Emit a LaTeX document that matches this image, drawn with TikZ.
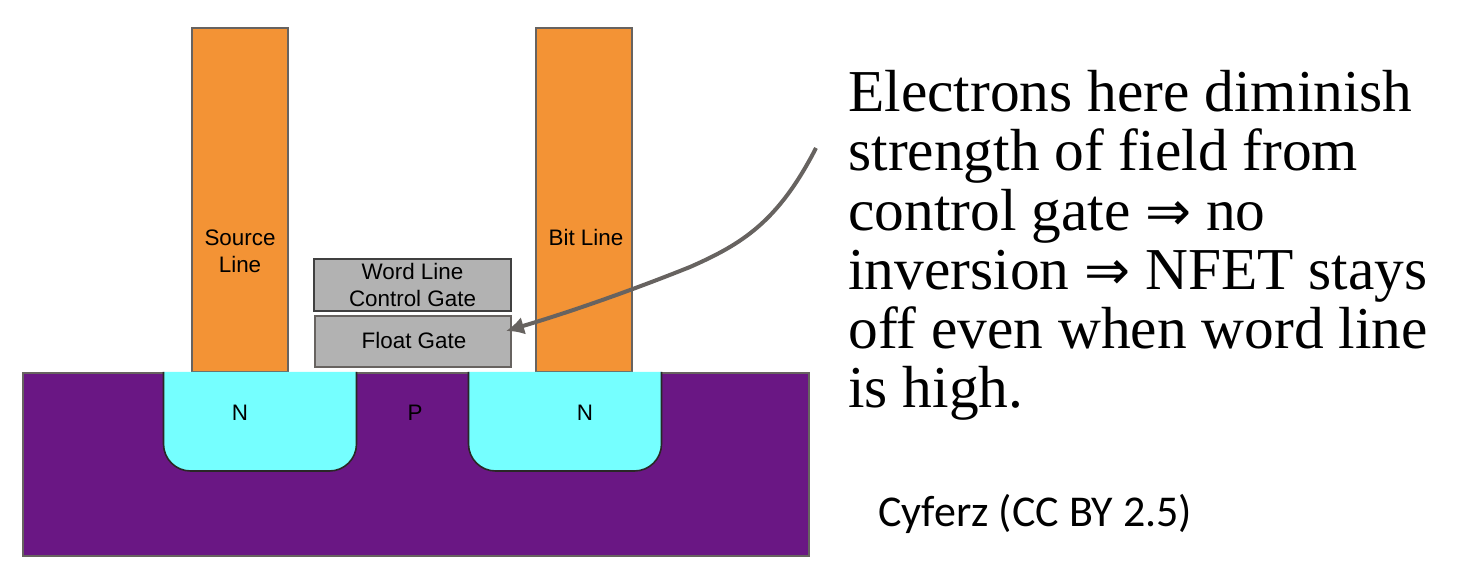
\documentclass[tikz,border=0pt]{standalone}
\usepackage{fontspec}
\setmainfont{Liberation Serif}
\setsansfont{Liberation Sans}
\newfontfamily\creditfont{Carlito}
\newfontfamily\arrowfont{DejaVu Sans}
\usetikzlibrary{arrows.meta}
\definecolor{substrate}{HTML}{6A1784}
\definecolor{welln}{HTML}{75FFFF}
\definecolor{metal}{HTML}{F39335}
\definecolor{gatefill}{HTML}{B2B2B2}
\definecolor{edgegray}{HTML}{676360}
\newcommand{\impl}{{\arrowfont\fontsize{27.5}{24}\selectfont ⇒}}
\tikzset{
  blockbox/.style={draw=edgegray, line width=1pt, inner sep=0pt, anchor=north west, align=center},
  well/.style={draw=edgegray!40!black, line width=0.8pt, fill=welln, rounded corners=13.5pt},
  tag/.style={font=\sffamily\fontsize{11.2}{13.5}\selectfont},
}
\begin{document}
\begin{tikzpicture}[x=0.5pt,y=-0.5pt]
\useasboundingbox (0,0) rectangle (1460,576);
\node [blockbox, fill=substrate, minimum width=393pt, minimum height=91.5pt] (sub) at (22,372) {};
\node [blockbox, fill=metal, minimum width=48pt, minimum height=172pt] (source) at (191,27.5) {};
\node [blockbox, fill=metal, minimum width=48pt, minimum height=172pt] (bit) at (535,27.5) {};
\node [tag] (sourcetext) at (240,253.5) {\begin{tabular}{@{}c@{}}Source\\Line\end{tabular}};
\node [tag] (bittext) at (586,237) {Bit Line};
\node [blockbox, fill=gatefill, draw=black!75, minimum width=98.5pt, minimum height=26pt] (word) at (313,258.5) {};
\node [blockbox, fill=gatefill, minimum width=98pt, minimum height=25.5pt] (float) at (313.5,315.5) {};
\node [tag] (wordtext) at (412.5,288) {\begin{tabular}{@{}c@{}}Word Line\\Control Gate\end{tabular}};
\node [tag] (floattext) at (414,340) {Float Gate};
\draw [well] (163.5,372) -- (163.5,471) -- (356.5,471) -- (356.5,372);
\draw [well] (468.5,372) -- (468.5,471) -- (661.5,471) -- (661.5,372);
\node [tag] (nleft) at (240,413) {N};
\node [tag] (pmid) at (415,413) {P};
\node [tag] (nright) at (585,413) {N};
\coordinate (start) at (816,148);
\coordinate (tip) at (506,331);
\draw [edgegray, line width=2pt, -{Latex[length=9pt,width=9pt]}] (start) .. controls (778,222) and (742,244) .. (690,267) .. controls (630,291) and (570,312) .. (tip);
\node [anchor=north west, inner sep=0pt, align=left, font=\fontsize{29.7}{29.6}\selectfont] (note) at (848,70) {Electrons here diminish\\strength of field from\\control gate \impl{} no\\inversion \impl{} NFET stays\\off even when word line\\is high.};
\node [anchor=west, inner sep=0pt, font=\creditfont\fontsize{22}{26}\selectfont] (credit) at (878,514) {Cyferz (CC BY 2.5)};
\end{tikzpicture}
\end{document}
